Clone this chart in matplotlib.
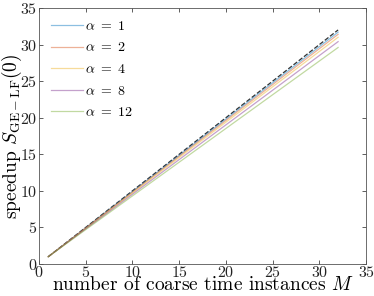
import matplotlib
matplotlib.use("Agg")
import matplotlib.pyplot as plt

# ── data ──────────────────────────────────────────────────────────────────────
M = [1, 4, 8, 12, 16, 20, 24, 28, 32]
ideal = [1, 4, 8, 12, 16, 20, 24, 28, 32]
speedup = {
    1: [1, 3.97, 7.93, 11.89, 15.85, 19.82, 23.78, 27.74, 31.70],
    2: [1, 3.94, 7.86, 11.79, 15.71, 19.63, 23.55, 27.48, 31.40],
    4: [1, 3.90, 7.77, 11.65, 15.52, 19.39, 23.26, 27.13, 31.00],
    8: [1, 3.85, 7.64, 11.43, 15.23, 19.02, 22.81, 26.61, 30.40],
    12: [1, 3.77, 7.46, 11.15, 14.84, 18.53, 22.22, 25.91, 29.60],
}
colors = ["#0072BD", "#D95319", "#EDB120", "#7E2F8E", "#77AC30"]

# ── plot ──────────────────────────────────────────────────────────────────────
plt.rcParams["font.family"] = "cmr10"
plt.rcParams["mathtext.fontset"] = "cm"
plt.rcParams["axes.formatter.use_mathtext"] = True

fig = plt.figure(figsize=(3.74, 2.96), dpi=100)
ax = fig.add_axes([0.104, 0.108, 0.875, 0.865])

ax.plot(M, ideal, color="#333333", linestyle="--", linewidth=0.9, zorder=1)
for (alpha, vals), c in zip(speedup.items(), colors):
    ax.plot(M, vals, color=c, alpha=0.45, linewidth=0.9, label=rf"$\alpha\ =\ {alpha}$", zorder=2)

ax.set_xlim(0, 35)
ax.set_ylim(0, 35)
ax.set_xticks(range(0, 36, 5))
ax.set_yticks(range(0, 36, 5))
ax.tick_params(direction="in", top=True, right=True, length=3, width=0.6,
               color="#444444", labelcolor="#222222", labelsize=11.5, pad=1)
for s in ax.spines.values():
    s.set_color("#555555")
    s.set_linewidth(0.6)

ax.set_xlabel(r"number of coarse time instances $M$", fontsize=14, labelpad=-3)
ax.set_ylabel(r"speedup $S_{\mathrm{GE-LF}}(0)$", fontsize=14)
ax.yaxis.set_label_coords(-0.045, 0.5)

ax.legend(loc="upper left", frameon=False, fontsize=10, handlelength=2.3,
          handletextpad=0.15, labelspacing=0.62, borderaxespad=0.45)

plt.savefig("out.png", dpi=100)
